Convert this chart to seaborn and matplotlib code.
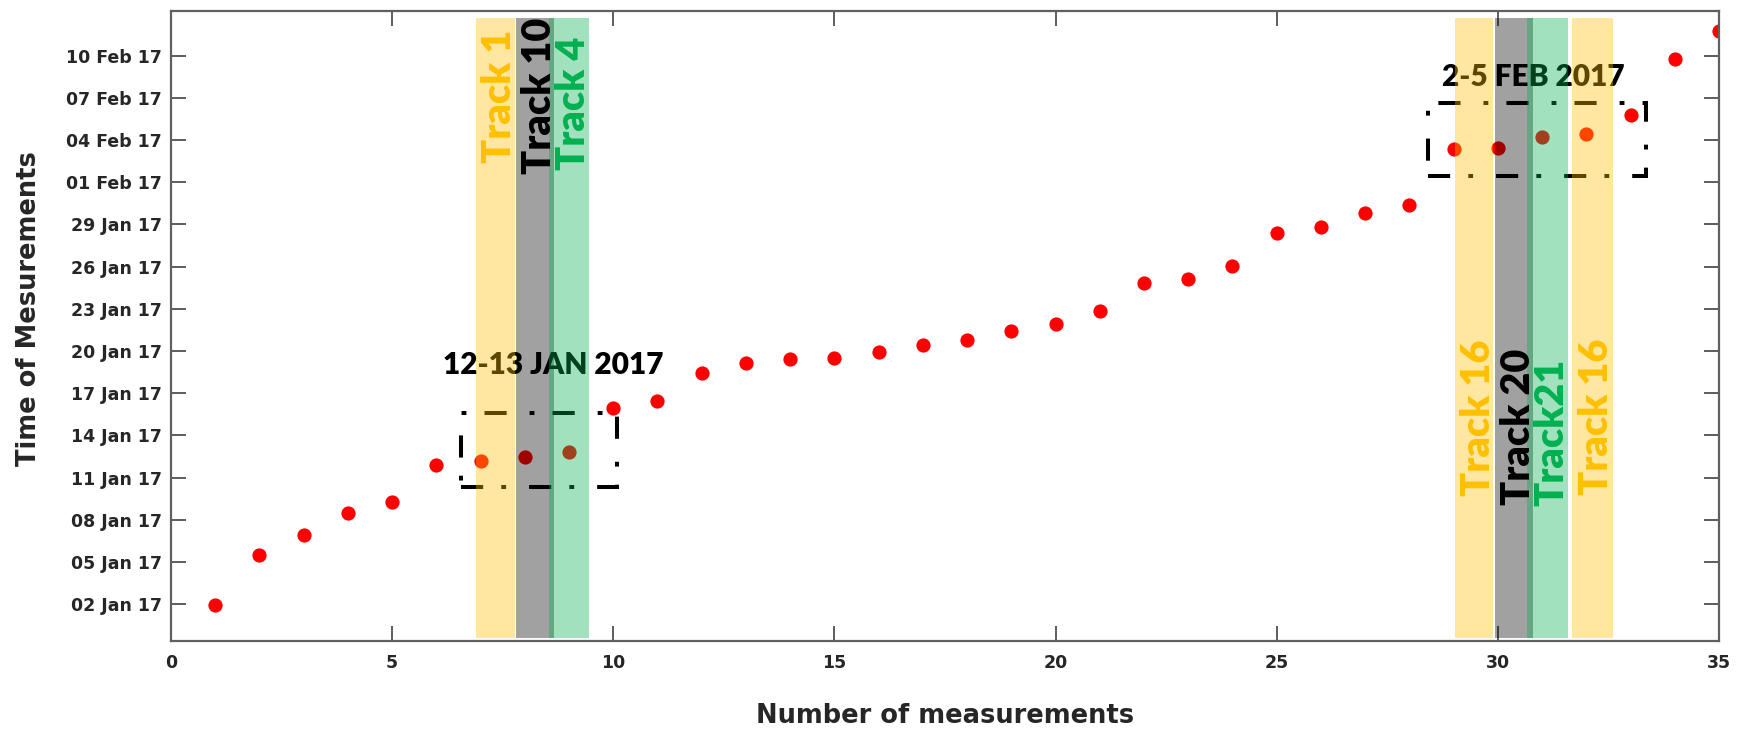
import matplotlib
matplotlib.use("Agg")
import matplotlib.pyplot as plt
import matplotlib.dates as mdates
from matplotlib.patches import Rectangle
import pandas as pd
import seaborn as sns

# Measurement number and acquisition time
measurement = list(range(1, 36))
acq_time = [
    "2017-01-01 22:50", "2017-01-05 11:30", "2017-01-06 22:50", "2017-01-08 11:45",
    "2017-01-09 07:00", "2017-01-11 22:05", "2017-01-12 04:50", "2017-01-12 11:45",
    "2017-01-12 20:25", "2017-01-15 22:50", "2017-01-16 10:50", "2017-01-18 10:05",
    "2017-01-19 04:05", "2017-01-19 11:00", "2017-01-19 11:30", "2017-01-19 21:50",
    "2017-01-20 10:20", "2017-01-20 19:10", "2017-01-21 10:50", "2017-01-21 21:35",
    "2017-01-22 19:40", "2017-01-24 19:25", "2017-01-25 03:20", "2017-01-26 01:40",
    "2017-01-28 09:50", "2017-01-28 19:40", "2017-01-29 19:25", "2017-01-30 09:10",
    "2017-02-03 08:40", "2017-02-03 10:50", "2017-02-04 05:30", "2017-02-04 10:50",
    "2017-02-05 18:00", "2017-02-09 17:30", "2017-02-11 17:15",
]

# Satellite tracks covering groups of measurements: (label, x-start, x-end, colour)
track_names = ["Track 1", "Track 10", "Track 4", "Track 16", "Track 20", "Track21", "Track 16"]
track_start = [6.90, 7.80, 8.54, 29.03, 29.93, 30.66, 31.68]
track_end = [7.77, 8.66, 9.46, 29.89, 30.79, 31.58, 32.60]
track_fill = ["#FFC000", "#000000", "#00B050", "#FFC000", "#000000", "#00B050", "#FFC000"]
track_text = ["#FFC000", "#000000", "#00B050", "#FFC000", "#000000", "#00B050", "#FFC000"]
track_label_time = ["2017-02-07 03:00", "2017-02-07 04:00", "2017-02-06 14:10",
                    "2017-01-15 05:45", "2017-01-14 15:20", "2017-01-14 05:00",
                    "2017-01-15 07:25"]

# Highlighted acquisition windows
window_names = ["12-13 JAN 2017", "2-5 FEB 2017"]
window_x = [(6.56, 10.08), (28.43, 33.35)]
window_t = [("2017-01-10 08:40", "2017-01-15 13:40"), ("2017-02-01 11:00", "2017-02-06 14:40")]
window_label_x = [8.64, 30.81]
window_label_t = ["2017-01-19 00:15", "2017-02-08 12:00"]

df = pd.DataFrame({"n": measurement, "time": pd.to_datetime(acq_time)})

sns.set_theme(style="white")
plt.rcParams["font.family"] = ["DejaVu Sans"]

fig = plt.figure(figsize=(17.39, 7.35), dpi=100)
ax = fig.add_axes([0.0983, 0.1279, 0.8902, 0.8571])

sns.scatterplot(data=df, x="n", y="time", color="#FF0000", s=105, linewidth=0,
                ax=ax, zorder=2)

to_num = lambda s: mdates.date2num(pd.Timestamp(s))

# Track bands drawn semi-transparent over the points
for x0, x1, c in zip(track_start, track_end, track_fill):
    ax.axvspan(x0, x1, ymin=0.005, ymax=0.989, color=c, alpha=0.37, lw=0, zorder=3)

for name, x0, x1, t, c in zip(track_names, track_start, track_end, track_label_time, track_text):
    ax.text((x0 + x1) / 2 + 0.1, to_num(t), name, rotation=90, ha="center", va="center",
            color=c, fontsize=28.5, fontweight="heavy", family=["Lato", "DejaVu Sans"], zorder=5)

# Dash-dot boxes around the grouped acquisitions
for (x0, x1), (t0, t1), name, lx, lt in zip(window_x, window_t, window_names,
                                             window_label_x, window_label_t):
    y0, y1 = to_num(t0), to_num(t1)
    ax.add_patch(Rectangle((x0, y0), x1 - x0, y1 - y0, fill=False, ec="black", lw=2.9,
                           ls=(0, (5.5, 4.5, 1.2, 5.7)), zorder=1))
    ax.text(lx, to_num(lt), name, ha="center", va="center", fontsize=21.5,
            fontweight="heavy", family=["Lato", "DejaVu Sans"], color="black", zorder=1)

ax.set_xlim(0, 35)
ax.set_ylim(to_num("2016-12-30 09:25"), to_num("2017-02-13 04:00"))
ax.set_xticks(range(0, 36, 5))
ax.set_yticks(mdates.date2num(pd.date_range("2017-01-02", "2017-02-10", freq="3D")))
ax.yaxis.set_major_formatter(mdates.DateFormatter("%d %b %y"))

ax.tick_params(axis="both", which="major", direction="in", length=10.5, width=1.3,
               color="#505050", labelsize=12.5, labelcolor="#262626",
               top=True, right=True, bottom=True, left=True)
ax.tick_params(axis="y", pad=6.5)
ax.tick_params(axis="x", pad=9.5)
for lab in ax.get_xticklabels() + ax.get_yticklabels():
    lab.set_fontweight("bold")

for sp in ax.spines.values():
    sp.set_color("#606060")
    sp.set_linewidth(1.6)

ax.set_xlabel("Number of measurements", fontsize=18.5, fontweight="bold",
              color="#262626", labelpad=22)
ax.set_ylabel("Time of Mesurements", fontsize=18.5, fontweight="bold",
              color="#262626", labelpad=14)
ax.yaxis.set_label_coords(-0.083, 0.527)

fig.savefig("out.png", dpi=100)
